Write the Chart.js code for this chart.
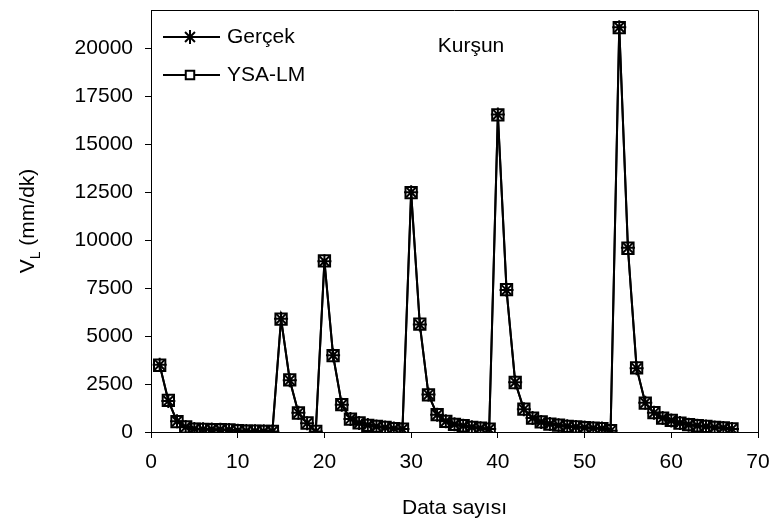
<!DOCTYPE html>
<html>
<head>
<meta charset="utf-8">
<script src="https://cdn.jsdelivr.net/npm/chart.js@4/dist/chart.umd.min.js"></script>
<style>
  html, body { margin: 0; padding: 0; background: #fff; }
  #wrap { width: 771px; height: 527px; }
</style>
</head>
<body>
<div id="wrap"><canvas id="grafik" width="771" height="527"></canvas></div>
<script>
// veri sayısı (x)
const dataNo = [1, 2, 3, 4, 5, 6, 7, 8, 9, 10, 11, 12, 13, 14, 15, 16, 17, 18, 19, 20,
    21, 22, 23, 24, 25, 26, 27, 28, 29, 30, 31, 32, 33, 34, 35, 36, 37, 38, 39, 40,
    41, 42, 43, 44, 45, 46, 47, 48, 49, 50, 51, 52, 53, 54, 55, 56, 57, 58, 59, 60,
    61, 62, 63, 64, 65, 66, 67];

// ölçülen değerler
const gercek = [3500, 1620, 560, 260, 160, 140, 130, 120, 110, 60, 50, 40, 35, 30,
    5900, 2700, 1000, 460, 20,
    8900, 4000, 1420, 680, 470, 360, 290, 230, 180, 150,
    12500, 5600, 1950, 900, 560, 400, 320, 250, 200, 150,
    16550, 7400, 2600, 1180, 730, 520, 420, 350, 300, 260, 230, 200, 180, 60,
    21100, 9600, 3320, 1520, 1000, 730, 600, 470, 380, 330, 290, 240, 210, 160];

// YSA-LM tahminleri
const ysaLm = [3480, 1650, 540, 270, 150, 140, 125, 120, 105, 65, 50, 45, 30, 30,
    5880, 2720, 990, 470, 30,
    8920, 3980, 1430, 670, 480, 350, 290, 235, 175, 150,
    12480, 5620, 1940, 910, 550, 400, 325, 245, 205, 145,
    16530, 7420, 2580, 1190, 720, 530, 415, 355, 295, 265, 225, 205, 175, 70,
    21080, 9580, 3340, 1510, 1010, 720, 605, 465, 385, 325, 295, 235, 215, 155];

const yTicks = [0, 2500, 5000, 7500, 10000, 12500, 15000, 17500, 20000];
const xTicks = [0, 10, 20, 30, 40, 50, 60, 70];

const fontAdi = "'Liberation Sans', Arial, sans-serif";
const fontBoyut = 21;

function noktalar(seri) {
    return dataNo.map((x, i) => ({ x: x, y: seri[i] }));
}

// çerçeve, başlık, eksen adları ve gösterge
const ekler = {
    id: 'ekler',
    afterDraw(chart) {
        const ctx = chart.ctx;
        const a = chart.chartArea;
        ctx.save();
        ctx.strokeStyle = '#000';
        ctx.lineWidth = 1;
        ctx.beginPath();
        ctx.moveTo(a.left, a.top + 0.5);
        ctx.lineTo(a.right + 0.5, a.top + 0.5);
        ctx.lineTo(a.right + 0.5, a.bottom);
        ctx.stroke();

        ctx.fillStyle = '#000';
        ctx.font = fontBoyut + 'px ' + fontAdi;
        ctx.textBaseline = 'middle';

        // başlık
        ctx.textAlign = 'center';
        ctx.fillText('Kurşun', 471, 46);

        // x ekseni adı
        ctx.fillText('Data sayısı', (a.left + a.right) / 2, 508);

        // y ekseni adı (alt simgeli)
        ctx.save();
        ctx.translate(28, (a.top + a.bottom) / 2);
        ctx.rotate(-Math.PI / 2);
        const p1 = 'V', p3 = ' (mm/dk)';
        const w1 = ctx.measureText(p1).width;
        ctx.font = '14px ' + fontAdi;
        const w2 = ctx.measureText('L').width;
        ctx.font = fontBoyut + 'px ' + fontAdi;
        const w3 = ctx.measureText(p3).width;
        let x0 = -(w1 + w2 + w3) / 2;
        ctx.textAlign = 'left';
        ctx.fillText(p1, x0, 0);
        ctx.font = '14px ' + fontAdi;
        ctx.fillText('L', x0 + w1, 8);
        ctx.font = fontBoyut + 'px ' + fontAdi;
        ctx.fillText(p3, x0 + w1 + w2, 0);
        ctx.restore();

        // gösterge
        const satirlar = [
            { ad: 'Gerçek', stil: 'star', y: 37, r: 7 },
            { ad: 'YSA-LM', stil: 'rect', y: 75, r: 6 }
        ];
        satirlar.forEach(s => {
            ctx.strokeStyle = '#000';
            ctx.lineWidth = 2;
            ctx.beginPath();
            ctx.moveTo(163, s.y);
            ctx.lineTo(220, s.y);
            ctx.stroke();
            ctx.fillStyle = '#fff';
            Chart.helpers.drawPoint(ctx, { pointStyle: s.stil, radius: s.r, borderWidth: 2 }, 190, s.y);
            ctx.fillStyle = '#000';
            ctx.textAlign = 'left';
            ctx.fillText(s.ad, 227, s.y);
        });
        ctx.restore();
    }
};

new Chart(document.getElementById('grafik'), {
    type: 'line',
    data: {
        datasets: [{
            label: 'Gerçek',
            data: noktalar(gercek),
            borderColor: '#000',
            borderWidth: 2,
            pointStyle: 'star',
            pointRadius: 7,
            pointBorderColor: '#000',
            pointBorderWidth: 2,
            tension: 0
        }, {
            label: 'YSA-LM',
            data: noktalar(ysaLm),
            borderColor: '#000',
            borderWidth: 2,
            pointStyle: 'rect',
            pointRadius: 8,
            pointBackgroundColor: 'rgba(0,0,0,0)',
            pointBorderColor: '#000',
            pointBorderWidth: 2,
            tension: 0
        }]
    },
    options: {
        responsive: false,
        animation: false,
        events: [],
        layout: { padding: { left: 0, right: 13, top: 9, bottom: 0 } },
        plugins: { legend: { display: false }, tooltip: { enabled: false } },
        scales: {
            x: {
                type: 'linear',
                min: 0,
                max: 70,
                afterFit: s => { s.height = 95; s.paddingLeft = 0; s.paddingRight = 0; },
                afterBuildTicks: s => { s.ticks = xTicks.map(v => ({ value: v })); },
                grid: { drawOnChartArea: false, tickLength: 6, color: '#000' },
                border: { color: '#000', width: 1 },
                ticks: {
                    color: '#000', padding: 12, maxRotation: 0,
                    font: { family: fontAdi, size: fontBoyut },
                    callback: v => String(v)
                }
            },
            y: {
                min: 0,
                max: 22000,
                afterFit: s => { s.width = 151; s.paddingTop = 0; s.paddingBottom = 0; },
                afterBuildTicks: s => { s.ticks = yTicks.map(v => ({ value: v })); },
                grid: { drawOnChartArea: false, tickLength: 6, color: '#000' },
                border: { color: '#000', width: 1 },
                ticks: {
                    color: '#000', padding: 12,
                    font: { family: fontAdi, size: fontBoyut },
                    callback: v => String(v)
                }
            }
        }
    },
    plugins: [ekler]
});
</script>
</body>
</html>
